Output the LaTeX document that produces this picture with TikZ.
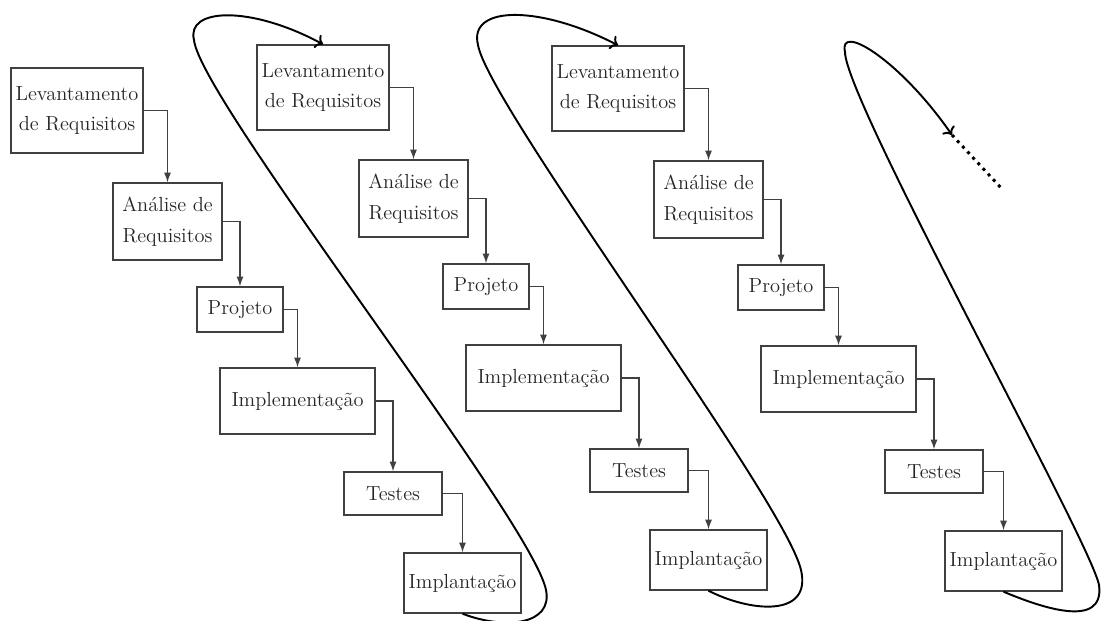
\documentclass[tikz,border=0pt]{standalone}
\usetikzlibrary{calc,arrows.meta}

\begin{document}
\begin{tikzpicture}[x=0.02cm,y=-0.02cm,
    fase/.style={rectangle,draw=black!75,line width=0.8pt,align=center,inner sep=0.5pt,text=black!85,font=\fontsize{11.6}{17.5}\selectfont},
    liga/.style={draw=black!75,line width=0.7pt,-{Latex[length=5.5pt,width=4pt]}},
    volta/.style={line width=1.1pt,->},
    pontos/.style={line width=1.7pt,dash pattern=on 1.7pt off 2.6pt}]
      \useasboundingbox (0,0) rectangle (1101,621);
      \foreach \c/\dx/\dy in {1/0/0,2/246/-23,3/541/-22}{
        \node (lev\c) [fase,minimum width=2.64cm,minimum height=1.7cm] at ($ (77,110.5)+(\dx,\dy) $) {Levantamento\\de Requisitos};
        \node (ana\c) [fase,minimum width=2.18cm,minimum height=1.54cm] at ($ (167.5,221.5)+(\dx,\dy) $) {Análise de\\Requisitos};
        \node (proj\c) [fase,minimum width=1.72cm,minimum height=0.9cm] at ($ (240,309.5)+(\dx,\dy) $) {Projeto};
        \node (impl\c) [fase,minimum width=3.1cm,minimum height=1.32cm] at ($ (297.5,401)+(\dx,\dy) $) {Implementação};
        \node (test\c) [fase,minimum width=1.96cm,minimum height=0.86cm] at ($ (393,493.5)+(\dx,\dy) $) {Testes};
        \node (impt\c) [fase,minimum width=2.34cm,minimum height=1.2cm] at ($ (462.5,583)+(\dx,\dy) $) {Implantação};
        \draw [liga] (lev\c) -| (ana\c);
        \draw [liga] (ana\c) -| (proj\c);
        \draw [liga] (proj\c) -| (impl\c);
        \draw [liga] (impl\c) -| (test\c);
        \draw [liga] (test\c) -| (impt\c);
      }
      \draw [volta] (impt1.south) .. controls (505,630) and (553,625) .. (546,590)
        .. controls (532,520) and (200,100) .. (194,40)
        .. controls (186,8) and (250,5) .. (lev2.north);
      \draw [volta] (impt2.south) .. controls (750,612) and (812,618) .. (801,570)
        .. controls (785,500) and (488,105) .. (478,45)
        .. controls (468,5) and (540,5) .. (lev3.north);
      \coordinate (seta) at (952,135);
      \coordinate (fim) at (1003,190);
      \draw [volta] (impt3.south) .. controls (1040,607) and (1105,630) .. (1099,585)
        .. controls (1090,540) and (845,100) .. (845,52)
        .. controls (838,22) and (900,60) .. (seta);
      \draw [pontos] (seta) -- (fim);
    \end{tikzpicture}
\end{document}
